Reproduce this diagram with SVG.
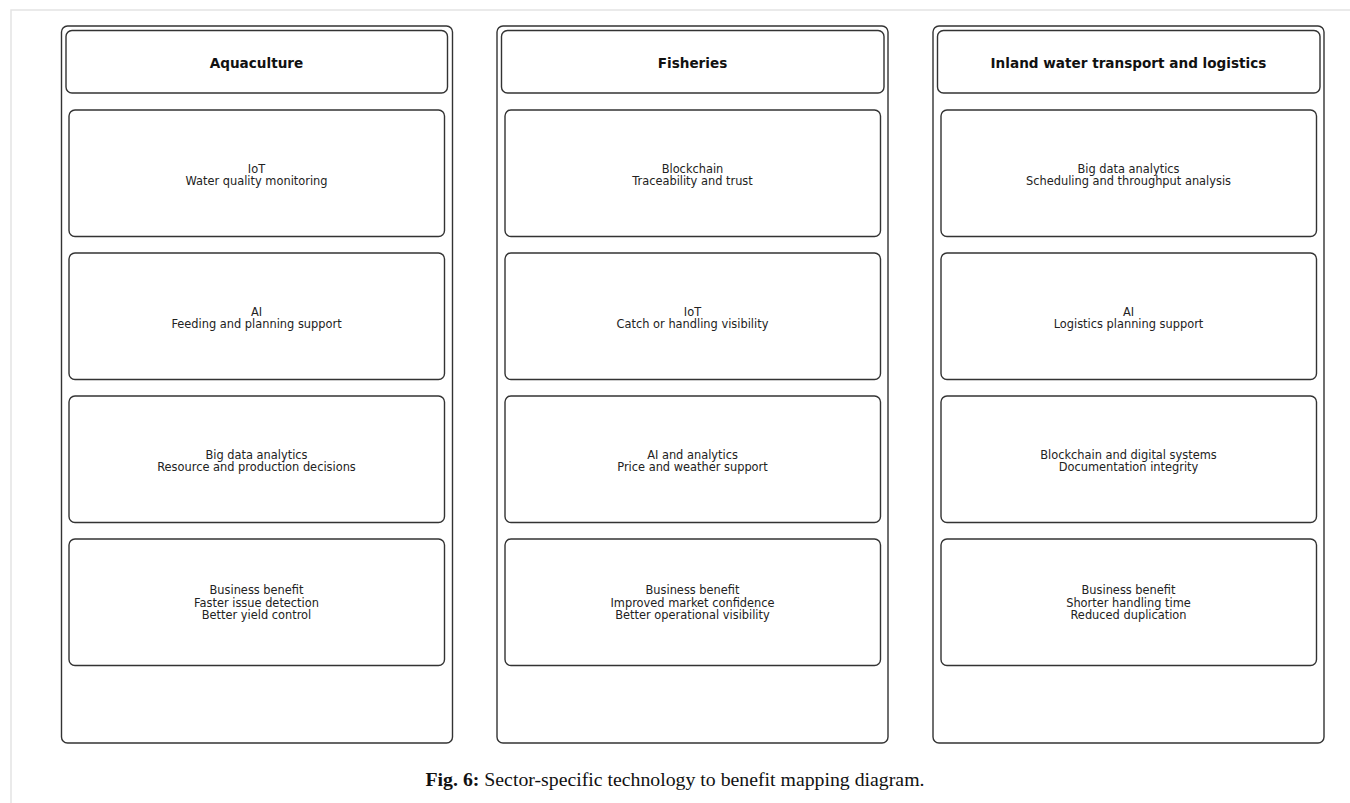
<svg xmlns="http://www.w3.org/2000/svg" width="1350" height="803" viewBox="0 0 1350 803">
  <style>
    .frame { fill: none; stroke: #e4e4e4; stroke-width: 1.5; }
    .lane { fill: #ffffff; stroke: #333333; stroke-width: 1.4; }
    .head { fill: #ffffff; stroke: #333333; stroke-width: 1.4; }
    .card { fill: #ffffff; stroke: #333333; stroke-width: 1.4; }
    .title { font-family: "DejaVu Sans", sans-serif; font-weight: bold; font-size: 13.6px; fill: #111111; text-anchor: middle; }
    .body { font-family: "DejaVu Sans", sans-serif; font-size: 11.4px; fill: #222222; text-anchor: middle; }
    .caption { font-family: "Liberation Serif", "Times New Roman", serif; font-size: 19.8px; fill: #111111; text-anchor: middle; }
  </style>

  <rect width="1350" height="803" fill="#ffffff"/>
  <!-- page frame -->
  <path class="frame" d="M11,803 V10 H1350"/>

  <!-- Aquaculture lane -->
  <g id="lane-aquaculture">
    <rect class="lane" x="61.5" y="26" width="391" height="717" rx="6"/>
    <g id="aq-head">
      <rect class="head" x="66" y="30.5" width="381.5" height="62.5" rx="6"/>
      <text class="title" x="256.5" y="68">Aquaculture</text>
    </g>
    <g id="aq-iot">
      <rect class="card" x="69" y="110" width="375.5" height="126.5" rx="6"/>
      <text class="body" x="256.5" y="172.5">IoT</text>
      <text class="body" x="256.5" y="185">Water quality monitoring</text>
    </g>
    <g id="aq-ai">
      <rect class="card" x="69" y="253" width="375.5" height="126.5" rx="6"/>
      <text class="body" x="256.5" y="315.5">AI</text>
      <text class="body" x="256.5" y="328">Feeding and planning support</text>
    </g>
    <g id="aq-bigdata">
      <rect class="card" x="69" y="396" width="375.5" height="126.5" rx="6"/>
      <text class="body" x="256.5" y="458.5">Big data analytics</text>
      <text class="body" x="256.5" y="471">Resource and production decisions</text>
    </g>
    <g id="aq-benefit">
      <rect class="card" x="69" y="539" width="375.5" height="126.5" rx="6"/>
      <text class="body" x="256.5" y="594">Business benefit</text>
      <text class="body" x="256.5" y="606.5">Faster issue detection</text>
      <text class="body" x="256.5" y="619">Better yield control</text>
    </g>
  </g>

  <!-- Fisheries lane -->
  <g id="lane-fisheries">
    <rect class="lane" x="497" y="26" width="391" height="717" rx="6"/>
    <g id="fi-head">
      <rect class="head" x="501.5" y="30.5" width="382.5" height="62.5" rx="6"/>
      <text class="title" x="692.5" y="68">Fisheries</text>
    </g>
    <g id="fi-blockchain">
      <rect class="card" x="505" y="110" width="375.5" height="126.5" rx="6"/>
      <text class="body" x="692.5" y="172.5">Blockchain</text>
      <text class="body" x="692.5" y="185">Traceability and trust</text>
    </g>
    <g id="fi-iot">
      <rect class="card" x="505" y="253" width="375.5" height="126.5" rx="6"/>
      <text class="body" x="692.5" y="315.5">IoT</text>
      <text class="body" x="692.5" y="328">Catch or handling visibility</text>
    </g>
    <g id="fi-ai">
      <rect class="card" x="505" y="396" width="375.5" height="126.5" rx="6"/>
      <text class="body" x="692.5" y="458.5">AI and analytics</text>
      <text class="body" x="692.5" y="471">Price and weather support</text>
    </g>
    <g id="fi-benefit">
      <rect class="card" x="505" y="539" width="375.5" height="126.5" rx="6"/>
      <text class="body" x="692.5" y="594">Business benefit</text>
      <text class="body" x="692.5" y="606.5">Improved market confidence</text>
      <text class="body" x="692.5" y="619">Better operational visibility</text>
    </g>
  </g>

  <!-- Inland water transport lane -->
  <g id="lane-transport">
    <rect class="lane" x="933" y="26" width="391" height="717" rx="6"/>
    <g id="tr-head">
      <rect class="head" x="937.5" y="30.5" width="382.5" height="62.5" rx="6"/>
      <text class="title" x="1128.5" y="68">Inland water transport and logistics</text>
    </g>
    <g id="tr-bigdata">
      <rect class="card" x="941" y="110" width="375.5" height="126.5" rx="6"/>
      <text class="body" x="1128.5" y="172.5">Big data analytics</text>
      <text class="body" x="1128.5" y="185">Scheduling and throughput analysis</text>
    </g>
    <g id="tr-ai">
      <rect class="card" x="941" y="253" width="375.5" height="126.5" rx="6"/>
      <text class="body" x="1128.5" y="315.5">AI</text>
      <text class="body" x="1128.5" y="328">Logistics planning support</text>
    </g>
    <g id="tr-blockchain">
      <rect class="card" x="941" y="396" width="375.5" height="126.5" rx="6"/>
      <text class="body" x="1128.5" y="458.5">Blockchain and digital systems</text>
      <text class="body" x="1128.5" y="471">Documentation integrity</text>
    </g>
    <g id="tr-benefit">
      <rect class="card" x="941" y="539" width="375.5" height="126.5" rx="6"/>
      <text class="body" x="1128.5" y="594">Business benefit</text>
      <text class="body" x="1128.5" y="606.5">Shorter handling time</text>
      <text class="body" x="1128.5" y="619">Reduced duplication</text>
    </g>
  </g>

  <!-- no connectors in this figure -->
  <g id="connectors"/>

  <text class="caption" x="675" y="786"><tspan font-weight="bold">Fig. 6:</tspan> Sector-specific technology to benefit mapping diagram.</text>
</svg>
